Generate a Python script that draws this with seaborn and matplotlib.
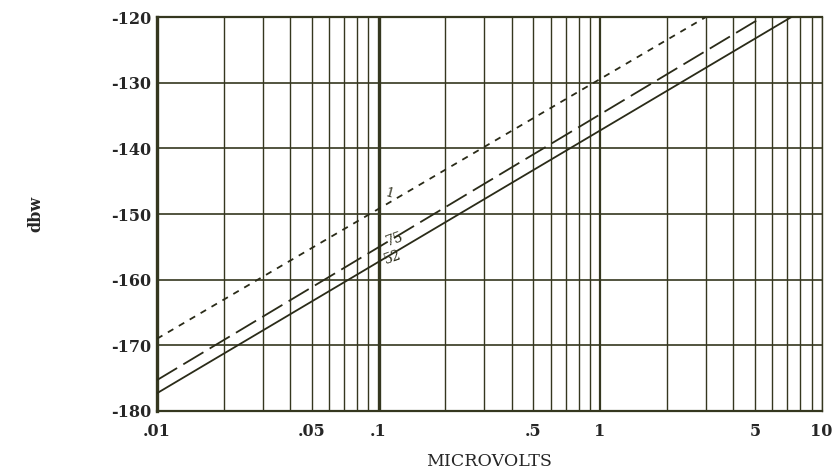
import numpy as np
import pandas as pd
import matplotlib
matplotlib.use("Agg")
import matplotlib.pyplot as plt
import seaborn as sns
from matplotlib.ticker import FixedLocator, NullFormatter

# ---- data ----
series_names = ["1", "75", "52"]
x_1 = [0.01, 3.0]
y_1 = [-169.0, -120.0]
x_75 = [0.01, 5.4]
y_75 = [-175.3, -120.0]
x_52 = [0.01, 7.3]
y_52 = [-177.3, -120.0]

xtick_vals = [0.01, 0.05, 0.1, 0.5, 1, 5, 10]
xtick_labels = [".01", ".05", ".1", ".5", "1", "5", "10"]
ytick_vals = [-180, -170, -160, -150, -140, -130, -120]

df = pd.concat([
    pd.DataFrame({"uV": x_1, "dbw": y_1, "line": "1"}),
    pd.DataFrame({"uV": x_75, "dbw": y_75, "line": "75"}),
    pd.DataFrame({"uV": x_52, "dbw": y_52, "line": "52"}),
])

sns.set_style("white")
plt.rcParams["font.family"] = ["DejaVu Serif"]

fig = plt.figure(figsize=(8.35, 4.74), dpi=100)
ax = fig.add_axes([0.188, 0.133, 0.796, 0.831])

grid_c = "#35371f"
# vertical grid: 1..9 multiples per decade
minor = [m * 10.0 ** e for e in (-2, -1, 0) for m in range(1, 10)] + [10]
for v in minor:
    lw = 2.4 if v in (0.1,) else (1.6 if v in (1,) else 1.0)
    ax.axvline(v, color=grid_c, lw=lw, zorder=1)
for v in ytick_vals:
    ax.axhline(v, color=grid_c, lw=1.2, zorder=1)

styles = {"1": (0, (3.5, 3.5)), "75": (0, (13, 4)), "52": "-"}
for name in series_names:
    sub = df[df["line"] == name]
    sns.lineplot(data=sub, x="uV", y="dbw", ax=ax, color="#2a2b18",
                 lw=1.3, linestyle=styles[name], legend=False, zorder=3)

ax.set_xscale("log")
ax.set_xlim(0.01, 10)
ax.set_ylim(-180, -120)
ax.xaxis.set_major_locator(FixedLocator(xtick_vals))
ax.set_xticklabels(xtick_labels)
ax.xaxis.set_minor_formatter(NullFormatter())
ax.set_yticks(ytick_vals)
ax.set_yticklabels([str(v) for v in ytick_vals])
ax.tick_params(axis="y", which="both", length=0, labelsize=11.5, pad=4)
ax.tick_params(axis="x", which="both", length=0, labelsize=11.5, pad=9)
for lab in ax.get_xticklabels() + ax.get_yticklabels():
    lab.set_fontweight("bold")

for side in ["left", "top", "bottom", "right"]:
    ax.spines[side].set_color(grid_c)
ax.spines["left"].set_linewidth(2.4)
ax.spines["top"].set_linewidth(1.6)
ax.spines["bottom"].set_linewidth(1.6)
ax.spines["right"].set_linewidth(1.0)

ax.set_xlabel("MICROVOLTS", fontsize=12.5, labelpad=9)
ax.set_ylabel("dbw", fontsize=11.5, fontweight="bold", labelpad=48)

# line labels
ax.text(0.106, -147.6, "1", fontsize=9.5, color="#2a2b18", rotation=-15, zorder=4)
ax.text(0.106, -154.9, "75", fontsize=10, color="#2a2b18", rotation=20, zorder=4)
ax.text(0.104, -157.6, "52", fontsize=10, color="#2a2b18", rotation=20, zorder=4)

fig.savefig("out.png", dpi=100)
